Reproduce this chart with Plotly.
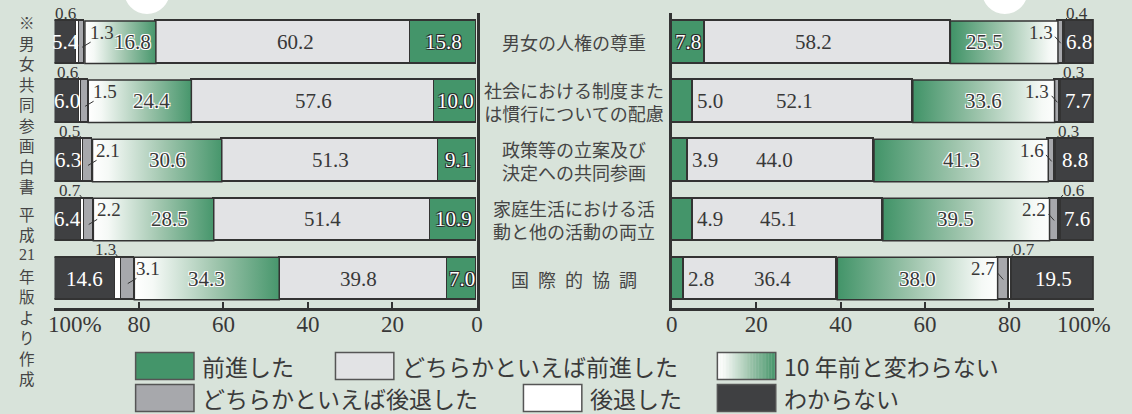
import plotly.graph_objects as go
from plotly.colors import find_intermediate_color, hex_to_rgb, label_rgb

# ---------------- data ----------------
categories = ["男女の人権の尊重",
              "社会における制度また<br>は慣行についての配慮",
              "政策等の立案及び<br>決定への共同参画",
              "家庭生活における活<br>動と他の活動の両立",
              "国\u2002際\u2002的\u2002協\u2002調"]
series_names = ["前進した", "どちらかといえば前進した", "10 年前と変わらない",
                "どちらかといえば後退した", "後退した", "わからない"]

left_advanced = [15.8, 10.0, 9.1, 10.9, 7.0]
left_somewhat_advanced = [60.2, 57.6, 51.3, 51.4, 39.8]
left_unchanged = [16.8, 24.4, 30.6, 28.5, 34.3]
left_somewhat_back = [1.3, 1.5, 2.1, 2.2, 3.1]
left_back = [0.6, 0.6, 0.5, 0.7, 1.3]
left_unknown = [5.4, 6.0, 6.3, 6.4, 14.6]

right_advanced = [7.8, 5.0, 3.9, 4.9, 2.8]
right_somewhat_advanced = [58.2, 52.1, 44.0, 45.1, 36.4]
right_unchanged = [25.5, 33.6, 41.3, 39.5, 38.0]
right_somewhat_back = [1.3, 1.3, 1.6, 2.2, 2.7]
right_back = [0.4, 0.3, 0.3, 0.6, 0.7]
right_unknown = [6.8, 7.7, 8.8, 7.6, 19.5]

tick_values = [0, 20, 40, 60, 80, 100]
tick_labels = ["0", "20", "40", "60", "80", ""]
end_label = "100%"
source_note = ["※", "男", "女", "共", "同", "参", "画", "白", "書",
               "平", "成", "21", "年", "版", "よ", "り", "作", "成"]

# label nudges in pixels (placement only, not data)
left_mid_label_nudge = [12, 0, 0, 0, -5]
left_grad_label_nudge = [12, 12, 10, 16, 0]
right_mid_label_nudge = [-14, -8, -7, -9, 12]
right_grad_label_nudge = [-20, 0, 0, -11, 0]

# ---------------- style ----------------
W, H = 1132, 414
BG = "#d8e3da"
GREEN = "#44956a"
LGRAY = "#e2e3e5"
MGRAY = "#a7a8ac"
WHITE = "#ffffff"
DARK = "#3f4042"
EDGE = "#333333"
TXT = "#383838"
GRAD = [[0, GREEN], [0.45, "#9fc5ad"], [0.88, "#f5f9f6"], [1, "#ffffff"]]
seg_colors = [GREEN, LGRAY, None, MGRAY, WHITE, DARK]
NUM_FONT = "Liberation Serif"
JP_FONT = "Noto Sans CJK JP"
OUTLINE = "-1px -1px 0 #2b2b2b, 1px -1px 0 #2b2b2b, -1px 1px 0 #2b2b2b, 1px 1px 0 #2b2b2b"
HALO = "-1px -1px 0 #ffffff, 1px -1px 0 #ffffff, -1px 1px 0 #ffffff, 1px 1px 0 #ffffff"

BAR_W = 0.72
rows = list(range(len(categories)))

# pixel layout
L_X0, L_X1 = 49, 476
R_X0, R_X1 = 673, 1099.5
P_TOP, P_BOT = 12.7, 308.1


def px(v):
    return v / W


def py(v):
    return 1 - v / H


def grad_color(u):
    for q in range(len(GRAD) - 1):
        if GRAD[q][0] <= u <= GRAD[q + 1][0]:
            c0 = hex_to_rgb(GRAD[q][1])
            c1 = hex_to_rgb(GRAD[q + 1][1])
            f = (u - GRAD[q][0]) / (GRAD[q + 1][0] - GRAD[q][0])
            return label_rgb(find_intermediate_color(c0, c1, f))
    return GRAD[-1][1]


panels = [
    dict(xa="x", ya="y", sign=-1,
         series=[left_advanced, left_somewhat_advanced, left_unchanged,
                 left_somewhat_back, left_back, left_unknown],
         mid_nudge=left_mid_label_nudge, grad_nudge=left_grad_label_nudge),
    dict(xa="x2", ya="y2", sign=1,
         series=[right_advanced, right_somewhat_advanced, right_unchanged,
                 right_somewhat_back, right_back, right_unknown],
         mid_nudge=right_mid_label_nudge, grad_nudge=right_grad_label_nudge),
]

fig = go.Figure()
annotations = []

for p in panels:
    ser = p["series"]
    s = p["sign"]  # pixel direction of growing percentage
    for k in range(6):
        col = seg_colors[k]
        fig.add_trace(go.Bar(
            orientation="h", y=rows, x=ser[k], xaxis=p["xa"], yaxis=p["ya"],
            width=BAR_W, showlegend=False, hoverinfo="skip",
            marker=dict(color=col if col else "rgba(0,0,0,0)",
                        line=dict(color=EDGE, width=1.5 if col else 0)),
        ))
    for i in rows:
        starts = [0]
        for k in range(6):
            starts.append(starts[-1] + ser[k][i])
        a, b = starts[2], starts[3]
        hh = BAR_W / 2
        fig.add_trace(go.Scatter(
            x=[a, b, b, a, a], y=[i - hh, i - hh, i + hh, i + hh, i - hh],
            xaxis=p["xa"], yaxis=p["ya"], mode="lines", fill="toself",
            fillgradient=dict(type="horizontal", colorscale=GRAD, start=a, stop=b),
            line=dict(color=EDGE, width=1.5), showlegend=False, hoverinfo="skip",
        ))
        mid = [(starts[k] + starts[k + 1]) / 2 for k in range(6)]
        base = dict(xref=p["xa"], yref=p["ya"], showarrow=False,
                    xanchor="center", yanchor="middle")
        # advanced (green)
        v = ser[0][i]
        if v >= 7:
            annotations.append(dict(base, x=mid[0], y=i, text=f"{v:.1f}",
                                    font=dict(family=NUM_FONT, size=21, color="white",
                                              shadow=OUTLINE)))
        else:
            annotations.append(dict(base, x=starts[1], y=i, text=f"{v:.1f}",
                                    xanchor="left" if s > 0 else "right", xshift=2 * s,
                                    font=dict(family=NUM_FONT, size=21, color=TXT)))
        # somewhat advanced
        annotations.append(dict(base, x=mid[1], y=i, text=f"{ser[1][i]:.1f}",
                                xshift=p["mid_nudge"][i],
                                font=dict(family=NUM_FONT, size=21, color=TXT)))
        # unchanged (gradient)
        annotations.append(dict(base, x=mid[2], y=i, text=f"{ser[2][i]:.1f}",
                                xshift=p["grad_nudge"][i],
                                font=dict(family=NUM_FONT, size=21, color=TXT, shadow=HALO)))
        # somewhat back: label inside gradient with leader
        annotations.append(dict(base, x=mid[3], y=i, text=f"{ser[3][i]:.1f}",
                                xshift=-20 * s, yshift=10,
                                font=dict(family=NUM_FONT, size=19, color=TXT)))
        if s < 0:
            annotations.append(dict(xref=p["xa"], yref=p["ya"], x=mid[3], y=i, text="",
                                    showarrow=True, arrowhead=0, arrowwidth=1,
                                    arrowcolor=EDGE, ax=10, ay=-6, yshift=-5,
                                    standoff=0, startstandoff=0))
        else:
            annotations.append(dict(xref=p["xa"], yref=p["ya"], x=mid[3], y=i, text="",
                                    showarrow=True, arrowhead=0, arrowwidth=1,
                                    arrowcolor=EDGE, ax=-7, ay=-8, yshift=-1,
                                    standoff=0, startstandoff=0))
        # back: label above bar with leader
        annotations.append(dict(base, x=mid[4], y=i, text=f"{ser[4][i]:.1f}",
                                xshift=13 * s, yshift=29,
                                font=dict(family=NUM_FONT, size=17, color=TXT)))
        annotations.append(dict(xref=p["xa"], yref=p["ya"], x=mid[4], y=i, text="",
                                showarrow=True, arrowhead=0, arrowwidth=1,
                                arrowcolor=EDGE, ax=4 * s, ay=-5, yshift=21,
                                standoff=0, startstandoff=0))
        # unknown (dark)
        annotations.append(dict(base, x=mid[5], y=i, text=f"{ser[5][i]:.1f}",
                                font=dict(family=NUM_FONT, size=21, color="white")))

# category labels in the middle
for i, c in enumerate(categories):
    annotations.append(dict(xref="paper", yref="y", x=px((L_X1 + R_X0) / 2), y=i,
                            xanchor="center", yanchor="middle",
                            text=c, showarrow=False, align="center",
                            font=dict(family=JP_FONT, size=18, color="#454545")))

# "100%" end labels
annotations.append(dict(xref="paper", yref="paper", x=px(70), y=py(324),
                        xanchor="center", yanchor="middle",
                        text=end_label, showarrow=False,
                        font=dict(family=NUM_FONT, size=23, color=TXT)))
annotations.append(dict(xref="paper", yref="paper", x=px(1090), y=py(324),
                        xanchor="center", yanchor="middle",
                        text=end_label, showarrow=False,
                        font=dict(family=NUM_FONT, size=23, color=TXT)))

# vertical source note: one annotation per character
NOTE_PITCH = 20.5
for j, ch in enumerate(source_note):
    ypos = 22 + j * NOTE_PITCH + (7.5 if j >= 9 else 0)
    annotations.append(dict(xref="paper", yref="paper", x=px(21), y=py(ypos), text=ch,
                            xanchor="center", yanchor="middle", showarrow=False,
                            borderpad=0,
                            font=dict(family=NUM_FONT if ch.isdigit() else JP_FONT,
                                      size=16 if ch.isdigit() else 15.5, color="#444444")))

# legend (manual, large swatches)
shapes = []
legend_items = [
    (131, 366, 0), (333, 366, 1), (719, 366, 2),
    (131, 398, 3), (523, 398, 4), (719, 398, 5),
]
SW, SH = 59, 27
for (lx, ly, k) in legend_items:
    x0, x1 = lx, lx + SW
    y0, y1 = ly - SH / 2, ly + SH / 2
    if seg_colors[k] is None:
        n = 40
        for t in range(n):
            u = 1 - (t + 0.5) / n   # white on the left, green on the right
            shapes.append(dict(type="rect", xref="paper", yref="paper",
                               x0=px(x0 + SW * t / n), x1=px(x0 + SW * (t + 1) / n + 0.3),
                               y0=py(y1), y1=py(y0), fillcolor=grad_color(u),
                               line=dict(width=0)))
        shapes.append(dict(type="rect", xref="paper", yref="paper", x0=px(x0), x1=px(x1),
                           y0=py(y1), y1=py(y0), fillcolor="rgba(0,0,0,0)",
                           line=dict(color="#555555", width=1.5)))
    else:
        shapes.append(dict(type="rect", xref="paper", yref="paper", x0=px(x0), x1=px(x1),
                           y0=py(y1), y1=py(y0), fillcolor=seg_colors[k],
                           line=dict(color="#555555", width=1.5)))
    annotations.append(dict(xref="paper", yref="paper", x=px(x1 + 6), y=py(ly),
                            xanchor="left", yanchor="middle",
                            text=series_names[k], showarrow=False,
                            font=dict(family=JP_FONT, size=23, color="#3a3a3a")))

# white bubble fragments at the very top
shapes.append(dict(type="circle", xref="paper", yref="paper", x0=px(119), x1=px(166),
                   y0=py(14), y1=py(-34), fillcolor="white", line=dict(width=0), layer="below"))
shapes.append(dict(type="circle", xref="paper", yref="paper", x0=px(986), x1=px(1033),
                   y0=py(14), y1=py(-34), fillcolor="white", line=dict(width=0), layer="below"))

axis_common = dict(showgrid=False, zeroline=False, fixedrange=True,
                   showline=True, linecolor=EDGE, linewidth=2.5,
                   ticks="inside", ticklen=6, tickwidth=2, tickcolor=EDGE,
                   tickvals=tick_values, ticktext=tick_labels, ticklabelstandoff=-6,
                   tickfont=dict(family=NUM_FONT, size=23, color=TXT))
yaxis_common = dict(showgrid=False, zeroline=False, fixedrange=True, range=[4.5, -0.5],
                    showticklabels=False, ticks="", showline=True, linecolor=EDGE,
                    linewidth=2.5, domain=[py(P_BOT), py(P_TOP)])

fig.update_layout(
    width=W, height=H, autosize=False,
    margin=dict(l=0, r=0, t=0, b=0),
    paper_bgcolor=BG, plot_bgcolor=BG,
    barmode="stack", bargap=0,
    xaxis=dict(axis_common, domain=[px(L_X0), px(L_X1)], range=[100, 0], anchor="y"),
    yaxis=dict(yaxis_common, anchor="x", side="right"),
    xaxis2=dict(axis_common, domain=[px(R_X0), px(R_X1)], range=[0, 100], anchor="y2"),
    yaxis2=dict(yaxis_common, anchor="x2", side="left"),
    annotations=annotations,
    shapes=shapes,
    showlegend=False,
)

fig.write_html("out.html", config={"displayModeBar": False},
               post_script="document.body.style.margin='0px';document.body.style.padding='0px';")
